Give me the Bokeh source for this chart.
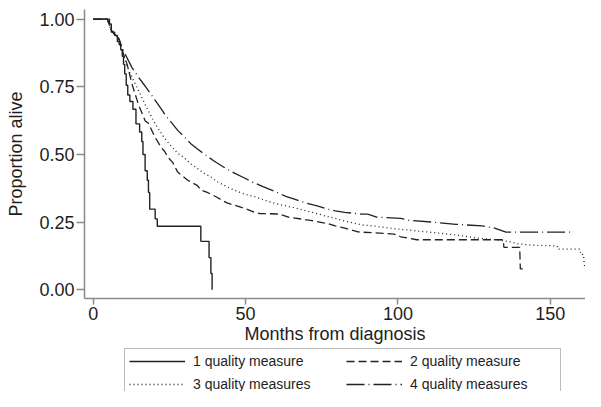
from bokeh.plotting import figure
from bokeh.layouts import column
from bokeh.models import Range1d, FixedTicker, PrintfTickFormatter, Legend, LegendItem
from bokeh.embed import file_html
from bokeh.resources import INLINE

# ---- data (months from diagnosis, proportion alive) ----
months_1 = [0, 5.3, 5.9, 7.0, 7.9, 8.5, 9.0, 9.5, 9.9, 10.3, 10.8, 11.3, 12.0, 13.0,
            14.0, 15.2, 15.9, 16.3, 17.0, 17.7, 18.1, 18.5, 20.3, 21.0, 35.3, 38.0, 38.6, 39.0]
surv_1 = [1.0, 0.982, 0.952, 0.94, 0.917, 0.905, 0.887, 0.863, 0.833, 0.798, 0.756, 0.72, 0.696, 0.667,
          0.613, 0.583, 0.548, 0.50, 0.44, 0.405, 0.36, 0.298, 0.262, 0.235, 0.179, 0.119, 0.06, 0.0]

months_2 = [0, 4.6, 5.7, 6.8, 8.4, 9.5, 11.1, 12.7, 14.8, 17.0, 18.1, 20.2, 22.4, 23.4, 24.5, 26.1,
            27.7, 31.0, 34.2, 35.3, 37.4, 40.6, 42.8, 43.9, 47.1, 50.3, 53.5, 54.6, 61.1, 64.3, 71.8,
            77.2, 79.4, 82.6, 86.9, 98.7, 100.9, 106.2, 134.6, 134.8, 140.0, 140.2, 141.2]
surv_2 = [1.0, 1.0, 0.964, 0.946, 0.925, 0.885, 0.833, 0.76, 0.685, 0.625, 0.615, 0.565, 0.524, 0.512, 0.49, 0.47,
          0.435, 0.405, 0.385, 0.369, 0.36, 0.342, 0.327, 0.321, 0.310, 0.298, 0.284, 0.282, 0.280, 0.268, 0.256,
          0.244, 0.236, 0.228, 0.214, 0.206, 0.196, 0.185, 0.185, 0.157, 0.157, 0.077, 0.077]

months_3 = [0, 4.6, 5.7, 6.8, 8.4, 9.5, 10.5, 11.6, 13.8, 17.0, 20.2, 23.4, 25.6, 27.7, 29.9,
            32.0, 34.2, 36.4, 38.5, 40.6, 44.9, 49.3, 53.5, 55.7, 60.0, 66.5, 71.8, 77.2, 79.4, 82.6,
            88.0, 92.5, 98.7, 104.1, 109.5, 114.8, 120.2, 125.6, 131.0, 136.3, 139.6, 143.9, 152.3, 152.5,
            159.8, 160.0, 160.9, 161.1, 161.4]
surv_3 = [1.0, 1.0, 0.964, 0.946, 0.925, 0.89, 0.845, 0.812, 0.76, 0.685, 0.615, 0.56, 0.53, 0.505, 0.487,
          0.465, 0.448, 0.43, 0.418, 0.40, 0.375, 0.355, 0.342, 0.333, 0.318, 0.302, 0.286, 0.270, 0.264, 0.254,
          0.24, 0.235, 0.226, 0.220, 0.214, 0.208, 0.201, 0.192, 0.186, 0.179, 0.170, 0.165, 0.162, 0.150,
          0.150, 0.131, 0.131, 0.107, 0.077]

months_4 = [0, 4.6, 5.7, 6.8, 8.4, 9.5, 11.6, 12.7, 14.8, 17.0, 19.1, 20.2, 22.4, 23.4, 25.6,
            27.7, 29.9, 32.0, 34.2, 37.0, 39.6, 43.9, 46.5, 49.3, 52.5, 55.7, 60.0, 63.2, 66.5, 69.7,
            73.5, 77.2, 79.4, 82.6, 88.0, 90.1, 93.3, 100.9, 104.1, 111.6, 119.1, 127.7, 131.5, 135.5, 157.3]
surv_4 = [1.0, 1.0, 0.964, 0.946, 0.929, 0.893, 0.845, 0.821, 0.786, 0.753, 0.72, 0.702, 0.667, 0.649, 0.619,
          0.589, 0.565, 0.54, 0.52, 0.497, 0.476, 0.446, 0.43, 0.415, 0.397, 0.381, 0.362, 0.345, 0.333, 0.321,
          0.31, 0.298, 0.292, 0.286, 0.280, 0.280, 0.268, 0.264, 0.256, 0.250, 0.242, 0.236, 0.229, 0.213, 0.213]

labels = ["1 quality measure", "2 quality measure", "3 quality measures", "4 quality measures"]
x_ticks = [0, 50, 100, 150]
y_ticks = [0, 0.25, 0.5, 0.75, 1.0]

FONT = "Liberation Sans"
TXT = "#1e1e1e"
AX = "#8a8a8a"
LINE = "#222222"
styles = [dict(line_dash="solid", line_width=1.4),
          dict(line_dash="8 4", line_width=1.3),
          dict(line_dash="1 3", line_width=1.3),
          dict(line_dash="18 4 1 4", line_width=1.3)]
series = [(months_1, surv_1), (months_2, surv_2), (months_3, surv_3), (months_4, surv_4)]

# ---------------- main plot ----------------
p = figure(width=585, height=347, output_backend="svg", toolbar_location=None,
           x_range=Range1d(-2.9, 161.6), y_range=Range1d(-0.0321, 1.0357),
           min_border_left=84, min_border_right=0, min_border_top=9, min_border_bottom=49)
p.outline_line_color = None
p.xgrid.visible = False
p.ygrid.visible = False
p.background_fill_color = "white"
p.border_fill_color = "white"

p.step(months_1, surv_1, mode="after", line_color=LINE, **styles[0])
p.line(months_2, surv_2, line_color=LINE, **styles[1])
p.line(months_3, surv_3, line_color=LINE, **styles[2])
p.line(months_4, surv_4, line_color=LINE, **styles[3])

p.xaxis.ticker = FixedTicker(ticks=x_ticks)
p.yaxis.ticker = FixedTicker(ticks=y_ticks)
p.yaxis.formatter = PrintfTickFormatter(format="%.2f")
p.xaxis.axis_label = "Months from diagnosis"
p.yaxis.axis_label = "Proportion alive"

for ax in (p.xaxis[0], p.yaxis[0]):
    ax.axis_line_color = AX
    ax.axis_line_width = 1.5
    ax.major_tick_line_color = AX
    ax.major_tick_line_width = 1.5
    ax.minor_tick_line_color = None
    ax.major_tick_in = 0
    ax.major_label_text_font = FONT
    ax.major_label_text_font_size = "18px"
    ax.major_label_text_color = TXT
    ax.axis_label_text_font = FONT
    ax.axis_label_text_font_size = "18px"
    ax.axis_label_text_font_style = "normal"
    ax.axis_label_text_color = TXT

p.xaxis.major_tick_out = 6
p.xaxis.major_label_standoff = 2
p.xaxis.axis_label_standoff = 1
p.yaxis.major_tick_out = 8
p.yaxis.major_label_standoff = 2
p.yaxis.axis_label_standoff = 10

# ---------------- legend strip (its lines lie outside its own visible range) ----------------
pl = figure(width=585, height=44, output_backend="svg", toolbar_location=None,
            x_axis_location=None, y_axis_location=None,
            x_range=Range1d(1000, 1001), y_range=Range1d(1000, 1001),
            min_border_left=84, min_border_right=0, min_border_top=0, min_border_bottom=0)
pl.outline_line_color = None
pl.xgrid.visible = False
pl.ygrid.visible = False
pl.background_fill_color = "white"
pl.border_fill_color = "white"

keys = [pl.line(xs, ys, line_color=LINE, **st) for (xs, ys), st in zip(series, styles)]

legend = Legend(items=[LegendItem(label=labels[i], renderers=[r]) for i, r in enumerate(keys)],
                ncols=2, orientation="horizontal", location=(40, -6), margin=0,
                padding=4, spacing=7, glyph_width=56, glyph_height=16, label_height=16,
                label_width=146, label_standoff=8,
                label_text_font=FONT, label_text_font_size="14px", label_text_color=TXT,
                border_line_color="#777777", border_line_width=1,
                background_fill_color="white", background_fill_alpha=1.0)
pl.add_layout(legend, "center")

layout = column(p, pl, spacing=0)
open("out.html", "w").write(file_html(layout, INLINE))
